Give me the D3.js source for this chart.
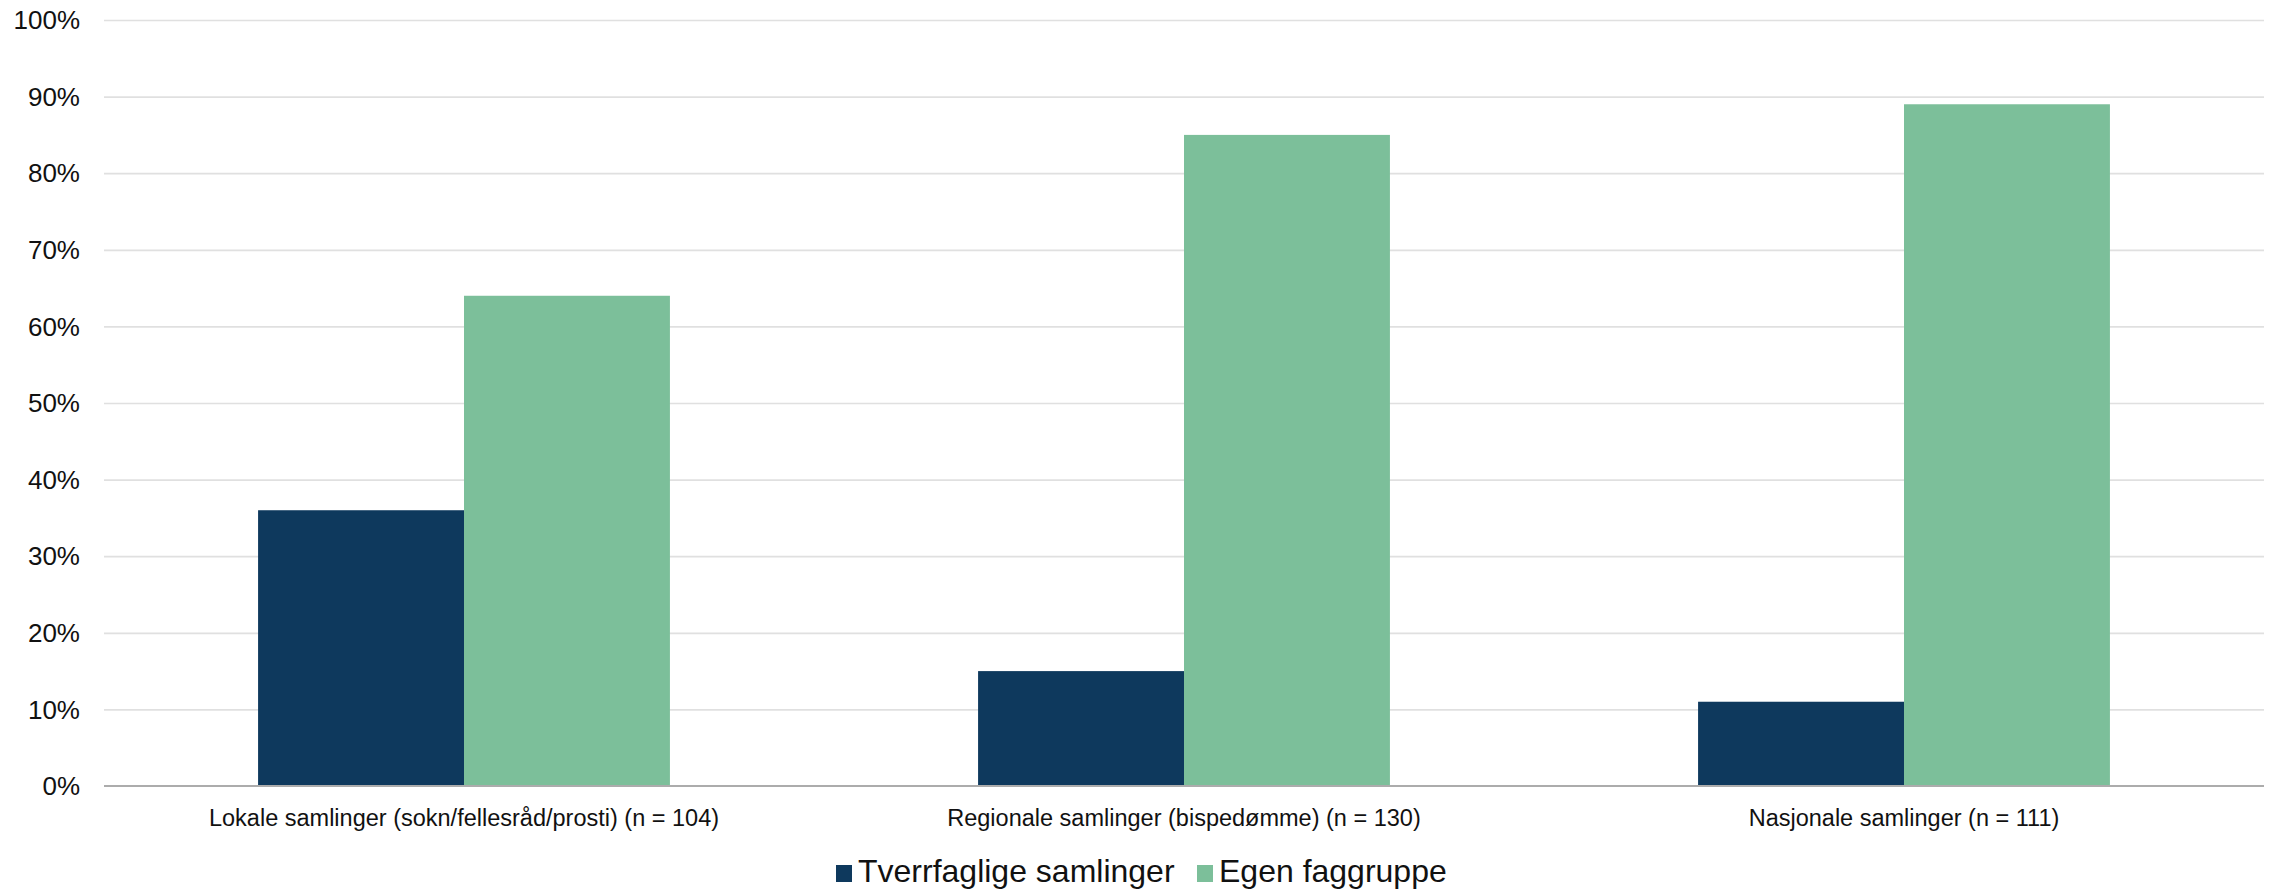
<!DOCTYPE html>
<html>
<head>
  <meta charset="utf-8">
  <script src="https://d3js.org/d3.v7.min.js"></script>
  <style>
  body {
    margin: 0;
    background: #fff;
    font-family: "Liberation Sans", Arial, sans-serif;
  }
  .grid line {
    stroke: #e0e0e0;
    stroke-width: 1.7;
  }
  .grid .domain {
    display: none;
  }
  </style>
</head>
<body>
  <script type="text/javascript">

  // chart values
  var categories = [
    'Lokale samlinger (sokn/fellesråd/prosti) (n = 104)',
    'Regionale samlinger (bispedømme) (n = 130)',
    'Nasjonale samlinger (n = 111)'
  ];
  var series = ['Tverrfaglige samlinger', 'Egen faggruppe'];
  var tverrfaglige = [0.36, 0.15, 0.11];
  var egen = [0.64, 0.85, 0.89];
  var yTicks = [0, 0.1, 0.2, 0.3, 0.4, 0.5, 0.6, 0.7, 0.8, 0.9, 1];

  var width = 2277,
      height = 889,
      plotLeft = 104,
      plotRight = 2264,
      plotTop = 20,
      plotBottom = 786,
      colours = ['#0e395d', '#7cbf9a'];

  var data = categories.map(function(c, i) {
    return {cat: c, values: [tverrfaglige[i], egen[i]]};
  });

  var svg = d3.select('body')
    .append('svg')
      .attr('width', width)
      .attr('height', height);

  var pad = 0.428;
  var x0 = d3.scaleBand().domain(categories)
    .range([plotLeft, plotRight])
    .paddingInner(pad)
    .paddingOuter(pad / 2);
  var x1 = d3.scaleBand().domain(series)
    .range([0, x0.bandwidth()]);
  var y = d3.scaleLinear().domain([0, 1]).range([plotBottom, plotTop]);

  // gridlines
  svg.append('g')
    .attr('class', 'grid')
    .attr('transform', 'translate(' + plotLeft + ',0)')
    .call(d3.axisLeft(y).tickValues(yTicks.slice(1))
      .tickSize(-(plotRight - plotLeft)).tickFormat(''));

  // y labels
  svg.append('g')
    .selectAll('text')
    .data(yTicks)
    .enter()
    .append('text')
      .attr('x', plotLeft - 24)
      .attr('y', function(d) { return y(d); })
      .attr('dy', '0.35em')
      .attr('text-anchor', 'end')
      .style('font-size', '26px')
      .style('fill', '#111')
      .text(d3.format('.0%'));

  // bars
  var groups = svg.append('g')
    .selectAll('g')
    .data(data)
    .enter()
    .append('g')
      .attr('transform', function(d) { return 'translate(' + x0(d.cat) + ',0)'; });

  groups.selectAll('rect')
    .data(function(d) {
      return d.values.map(function(v, i) { return {s: series[i], v: v, i: i}; });
    })
    .enter()
    .append('rect')
      .attr('x', function(d) { return x1(d.s); })
      .attr('y', function(d) { return y(d.v); })
      .attr('width', x1.bandwidth())
      .attr('height', function(d) { return plotBottom - y(d.v); })
      .attr('fill', function(d) { return colours[d.i]; });

  // x axis line
  svg.append('line')
    .attr('x1', plotLeft).attr('x2', plotRight)
    .attr('y1', plotBottom).attr('y2', plotBottom)
    .attr('stroke', '#acacac')
    .attr('stroke-width', 2.2);

  // category labels
  svg.append('g')
    .selectAll('text')
    .data(categories)
    .enter()
    .append('text')
      .attr('x', function(d) { return x0(d) + x0.bandwidth() / 2; })
      .attr('y', 826)
      .attr('text-anchor', 'middle')
      .style('font-size', '23.5px')
      .style('fill', '#111')
      .text(function(d) { return d; });

  // legend
  var legend = svg.append('g');
  var legendX = [836, 1197];
  series.forEach(function(s, i) {
    legend.append('rect')
      .attr('x', legendX[i])
      .attr('y', 865)
      .attr('width', 16)
      .attr('height', 17)
      .attr('fill', colours[i]);
    legend.append('text')
      .attr('x', legendX[i] + 22)
      .attr('y', 882)
      .style('font-size', '32px')
      .style('fill', '#111')
      .text(s);
  });

  </script>
</body>
</html>
